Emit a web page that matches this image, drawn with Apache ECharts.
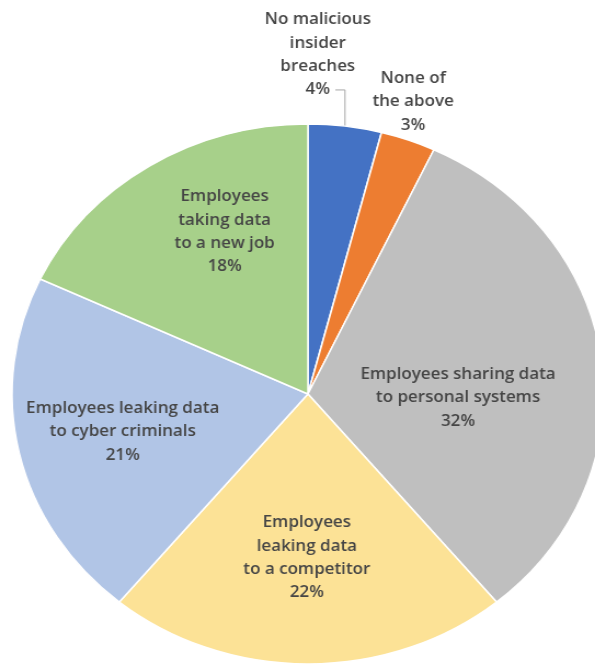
<!DOCTYPE html>
<html><head><meta charset="utf-8">
<script src="https://cdn.jsdelivr.net/npm/echarts@6/dist/echarts.min.js"></script>
<style>
html,body{margin:0;padding:0;background:#fff;overflow:hidden;}
#wrap{width:595px;height:667px;overflow:hidden;position:relative;}
#c{width:543px;height:667px;transform:scaleX(1.0958);transform-origin:0 0;}
</style></head>
<body><div id="wrap"><div id="c"></div></div>
<script>
const categories = [
  "No malicious\ninsider\nbreaches",
  "None of\nthe above",
  "Employees sharing data\nto personal systems",
  "Employees\nleaking data\nto a competitor",
  "Employees leaking data\nto cyber criminals",
  "Employees\ntaking data\nto a new job"
];
const values = [4, 3, 32, 22, 21, 18];
const colors = ["#4472C4", "#ED7D31", "#BFBFBF", "#FCE296", "#B1C5E6", "#A7D08A"];
// label anchor centres (chart pixel space, before horizontal stretch)
const labelCenters = [[290, 55], [377, 102], [418, 398], [280, 558], [112, 432], [205, 232]];

const chart = echarts.init(document.getElementById('c'), null, {renderer: 'canvas'});
const data = categories.map((n, i) => ({
  name: n, value: values[i],
  itemStyle: {color: colors[i]},
  label: i <= 1 ? {position: 'outside'} : {position: 'inside'},
  labelLine: {show: i === 0, length: 10, length2: 5, lineStyle: {color: '#A6A6A6', width: 1}}
}));
chart.setOption({
  animation: false,
  series: [{
    type: 'pie',
    center: [281, 394],
    radius: [0, 270],
    startAngle: 90,
    clockwise: true,
    avoidLabelOverlap: false,
    itemStyle: {borderColor: '#fff', borderWidth: 1.5},
    label: {
      formatter: p => p.name + '\n' + p.value + '%',
      fontFamily: 'Open Sans',
      fontSize: 15.5,
      fontWeight: 600,
      lineHeight: 23.3,
      color: '#454545',
      align: 'center'
    },
    labelLayout: function (p) {
      const c = labelCenters[p.dataIndex];
      const out = {x: c[0], y: c[1], align: 'center', verticalAlign: 'middle'};
      if (p.dataIndex === 0 && p.labelLinePoints) {
        const s = p.labelLinePoints[0];
        const yLast = c[1] + 23.3 * 1.5;
        out.labelLinePoints = [[s[0], s[1]], [s[0], yLast], [c[0] + 16, yLast]];
      }
      return out;
    },
    data: data
  }]
});
</script></body></html>
